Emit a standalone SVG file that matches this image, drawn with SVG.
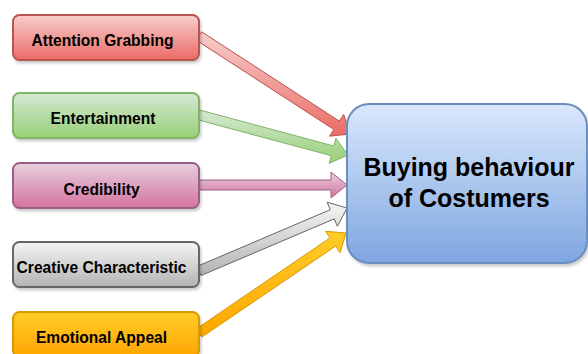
<svg xmlns="http://www.w3.org/2000/svg" width="588" height="354" viewBox="0 0 588 354">
  <defs>
    <linearGradient id="gRed" x1="0" y1="0" x2="0" y2="1"><stop offset="0" stop-color="#f8cecc"/><stop offset="1" stop-color="#ea6b66"/></linearGradient>
    <linearGradient id="gGreen" x1="0" y1="0" x2="0" y2="1"><stop offset="0" stop-color="#d5e8d4"/><stop offset="1" stop-color="#97d077"/></linearGradient>
    <linearGradient id="gPink" x1="0" y1="0" x2="0" y2="1"><stop offset="0" stop-color="#e6d0de"/><stop offset="1" stop-color="#d5739d"/></linearGradient>
    <linearGradient id="gGray" x1="0" y1="0" x2="0" y2="1"><stop offset="0" stop-color="#f5f5f5"/><stop offset="1" stop-color="#b3b3b3"/></linearGradient>
    <linearGradient id="gYellow" x1="0" y1="0" x2="0" y2="1"><stop offset="0" stop-color="#ffcd28"/><stop offset="1" stop-color="#ffa500"/></linearGradient>
    <linearGradient id="gBlue" x1="0" y1="0" x2="0" y2="1"><stop offset="0" stop-color="#dae8fc"/><stop offset="1" stop-color="#7ea6e0"/></linearGradient>
    <filter id="sh" x="-10%" y="-10%" width="130%" height="140%">
      <feDropShadow dx="1.5" dy="2.5" stdDeviation="1.2" flood-color="#000" flood-opacity="0.2"/>
    </filter>
  </defs>
  <style>
    .box { stroke-width: 2; filter: url(#sh); }
    .lbl { font-family: "Liberation Sans", Arial, sans-serif; font-weight: bold; font-size: 15.6px; fill: #000; text-anchor: middle; }
    .big { font-family: "Liberation Sans", Arial, sans-serif; font-weight: bold; font-size: 25px; fill: #000; text-anchor: middle; }
    .arr { stroke-width: 1; stroke-linejoin: miter; }
  </style>
  <rect width="588" height="354" fill="#ffffff"/>

  <g id="connectors">
    <polygon class="arr" fill="url(#gRed)" stroke="#b85450" points="196.3,40.2 333.9,129.5 329.5,136.2 350,134 343.7,114.4 339.3,121.1 201.7,31.8"/>
    <polygon class="arr" fill="url(#gGreen)" stroke="#82b366" points="197.7,119.8 331.3,155.7 329.2,163.4 348,155 335.9,138.3 333.8,146.0 200.3,110.2"/>
    <polygon class="arr" fill="url(#gPink)" stroke="#996185" points="199,190 331,190 331,198 347,185 331,172 331,180 199,180"/>
    <polygon class="arr" fill="url(#gGray)" stroke="#666666" points="201.0,275.6 334.2,218.9 337.4,226.3 347,208 327.2,202.3 330.3,209.7 197.0,266.4"/>
    <polygon class="arr" fill="url(#gYellow)" stroke="#d79b00" points="201.8,337.1 335.6,246.1 340.1,252.7 346,233 325.5,231.3 330.0,237.9 196.2,328.9"/>
  </g>

  <g id="node-attention">
    <rect class="box" x="13" y="15" width="186" height="45" rx="6.5" fill="url(#gRed)" stroke="#b85450"/>
    <text class="lbl" x="102.5" y="45.5">Attention Grabbing</text>
  </g>
  <g id="node-entertainment">
    <rect class="box" x="13" y="93" width="186" height="45" rx="6.5" fill="url(#gGreen)" stroke="#82b366"/>
    <text class="lbl" x="103" y="124">Entertainment</text>
  </g>
  <g id="node-credibility">
    <rect class="box" x="13" y="163" width="186" height="45" rx="6.5" fill="url(#gPink)" stroke="#996185"/>
    <text class="lbl" x="101.5" y="195">Credibility</text>
  </g>
  <g id="node-creative">
    <rect class="box" x="13" y="242" width="186" height="45" rx="6.5" fill="url(#gGray)" stroke="#666666"/>
    <text class="lbl" x="101.5" y="273">Creative Characteristic</text>
  </g>
  <g id="node-emotional">
    <rect class="box" x="13" y="312" width="186" height="45" rx="6.5" fill="url(#gYellow)" stroke="#d79b00"/>
    <text class="lbl" x="101.5" y="342.7">Emotional Appeal</text>
  </g>
  <g id="node-buying">
    <rect class="box" x="347" y="104" width="240" height="159" rx="22" fill="url(#gBlue)" stroke="#6c8ebf"/>
    <text class="big" x="469" y="176">Buying behaviour</text>
    <text class="big" x="469" y="206.7">of Costumers</text>
  </g>
</svg>
